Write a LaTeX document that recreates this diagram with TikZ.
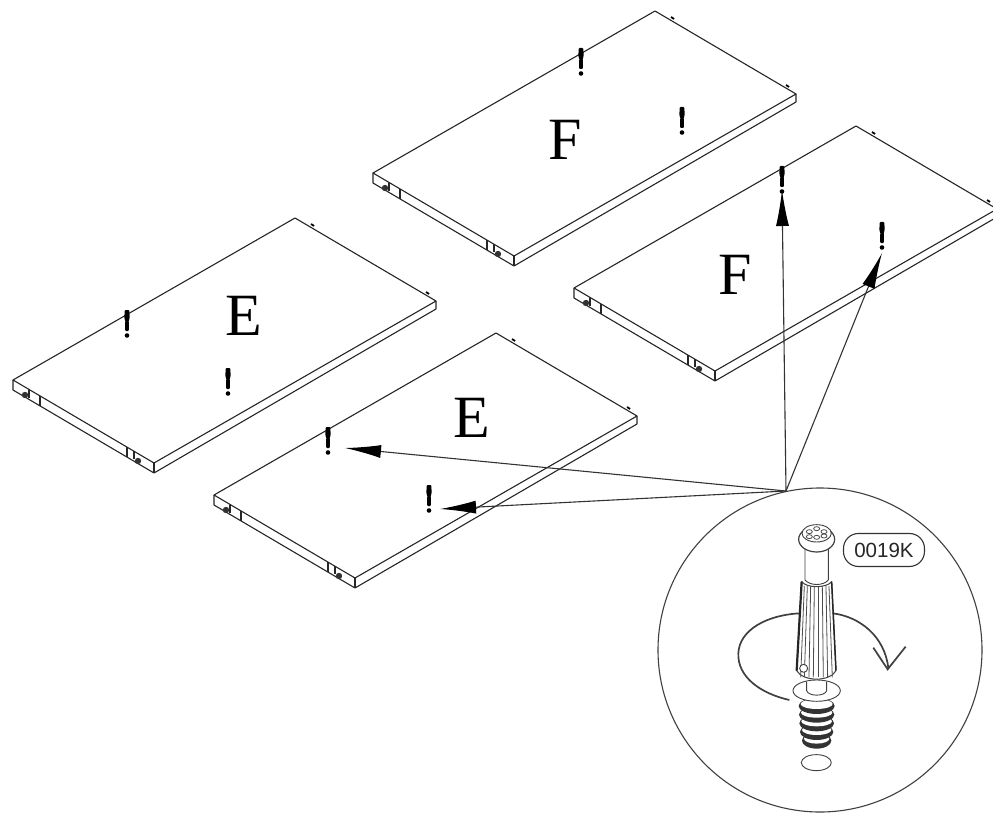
\documentclass[tikz,border=0pt]{standalone}
\usepackage{fontspec}
\setmainfont{Liberation Serif}
\newfontfamily\lblsans{Liberation Sans}
\usetikzlibrary{arrows.meta,calc}
\tikzset{
  edgeline/.style={draw=black!85,line width=1.1pt,line join=round},
  letter/.style={font=\fontsize{60}{60}\selectfont,inner sep=0pt,text=black},
  pointer/.style={draw=black!80,line width=1.1pt,-{Latex[length=36pt,width=13pt,black]}},
  pinbar/.style={fill=black,draw=none,rounded corners=1pt},
  fine/.style={draw=black!75,line width=0.9pt,line join=round},
  ribbon/.style={draw=black!75,line width=1.7pt,line cap=butt},
}
\newcommand{\boardpanel}[3]{%
  \begin{scope}[shift={(#1,#2)}]
    \coordinate (#3l) at (0,0);
    \coordinate (#3t) at (282,-162);
    \coordinate (#3r) at (423,-79);
    \coordinate (#3b) at (141,83);
    \path[fill=white] (#3l) -- (#3t) -- (#3r) -- ++(0,8) -- ($(#3b)+(0,9)$) -- ($(#3l)+(0,9)$) -- cycle;
    \draw[edgeline] (#3l) -- (#3t) -- (#3r) -- (#3b) -- cycle;
    \draw[edgeline] (#3l) -- ++(0,10) -- ($(#3b)+(0,10)$) -- ($(#3r)+(0,8)$) -- (#3r);
    \draw[edgeline] (#3b) -- ++(0,10);
    % dowels and cut-outs on the front edge
    \fill[black!80] (12,15) circle (3.2pt);
    \draw[edgeline] (16,10) -- (16,18);
    \draw[edgeline,line width=2pt] (27,16) -- (27,26);
    \draw[edgeline,line width=2pt] (114,67) -- (114,77);
    \fill[black!80] (125,81) circle (3.2pt);
    \draw[edgeline] (121,71) -- (121,79);
    % small ticks on the far edges
    \draw[black,line width=1.8pt] (298,-156) -- (301,-154);
    \draw[black,line width=1.8pt] (413,-88) -- (416,-86);
  \end{scope}}
\newcommand{\cabpin}[3]{%
  \begin{scope}[shift={(#1,#2)}]
    \path[pinbar] (-2.4,-14) -- (2.4,-14) -- (2.6,-5) -- (1.7,-4) -- (2,7) -- (-2,7) -- (-1.7,-4) -- (-2.6,-5) -- cycle;
    \fill[black] (0,11.5) circle (2.3pt);
    \coordinate (#3) at (0,0);
  \end{scope}}
\begin{document}
\begin{tikzpicture}[x=1pt,y=-1pt]
\useasboundingbox (0,0) rectangle (993,813);
\clip (0,0) rectangle (993,813);
\fill[white] (0,0) rectangle (993,813);

\boardpanel{373}{173}{pa}
\boardpanel{574}{288}{pb}
\boardpanel{13}{380}{pc}
\boardpanel{214}{495}{pd}

\node[letter] (lf1) at (565,140) {F};
\node[letter] (lf2) at (735,275) {F};
\node[letter] (le1) at (244,316) {E};
\node[letter] (le2) at (472,418) {E};

\cabpin{581}{62}{pina}
\cabpin{682}{121}{pinb}
\cabpin{782}{180}{pinc}
\cabpin{882}{236}{pind}
\cabpin{127}{324}{pine}
\cabpin{228}{382}{pinf}
\cabpin{328}{441}{ping}
\cabpin{429}{499}{pinh}

% detail circle
\node[draw=black!75,line width=1.1pt,circle,minimum size=324pt,inner sep=0pt] (detail) at (820,650) {};
\coordinate (hub) at (786,491);
\coordinate (tipg) at (345,448);
\coordinate (tiph) at (440,509);
\coordinate (tipc) at (782,190);
\coordinate (tipd) at (882,253);
\draw[pointer] (hub) -- (tipg);
\draw[pointer] (hub) -- (tiph);
\draw[pointer] (hub) -- (tipc);
\draw[pointer] (hub) -- (tipd);

% fastener, drawn in the 3x crop coordinates
\begin{scope}[shift={(650,480)},x=0.3333pt,y=-0.3333pt]
  % rotation arrow, rear part
  \draw[ribbon] (418,660) .. controls (330,640) and (262,590) .. (265,520) .. controls (268,450) and (350,405) .. (450,400);
  \draw[ribbon] (548,400) .. controls (630,410) and (705,470) .. (715,565);
  \draw[ribbon] (670,503) -- (713,568) -- (767,500);
  % threads
  \foreach \yy/\tw in {782/44,756/50,730/52,704/53,678/54} {
    \fill[black!80] (500,\yy) ellipse [x radius=\tw, y radius=24];
    \fill[white] (500,\yy-6) ellipse [x radius=\tw-6, y radius=15];
  }
  % flange
  \draw[fine,fill=white] (500,632) ellipse (71 and 32);
  \draw[fine] (470,605) -- (470,632) .. controls (475,650) and (525,650) .. (530,632) -- (530,605);
  % sleeve
  \draw[fine,fill=white,line width=1pt] (455,305) -- (440,572) .. controls (460,606) and (540,606) .. (558,572) -- (545,305) .. controls (530,325) and (470,325) .. (455,305) -- cycle;
  \draw[black!85,line width=2.2pt] (455,305) -- (440,572);
  \draw[black!85,line width=1.5pt] (545,305) -- (558,572);
  \foreach \a/\b in {463/452,472/463,482/477,493/490,505/505,517/520,528/533,537/547} {
    \draw[black!70,line width=0.8pt] (\a,318) -- (\b,592);
  }
  \draw[fine,fill=white] (461,565) circle (12);
  % neck
  \draw[fine,fill=white] (465,205) -- (465,300) .. controls (480,318) and (520,318) .. (535,300) -- (535,205) -- cycle;
  % head
  \draw[fine,fill=white,line width=1.2pt] (500,178) ellipse (54 and 38);
  \draw[fine,fill=white] (500,160) ellipse (44 and 26);
  \foreach \xx/\yy in {478/155,500/146,522/155,478/170,500/172,522/168} {
    \draw[black!70,line width=0.8pt] (\xx,\yy) circle (9 and 6);
  }
  % hole
  \draw[fine] (499,848) ellipse (45 and 24);
  % label
  \node[draw=black!80,line width=1.1pt,rounded corners=15pt,inner xsep=0pt,inner ysep=0pt,minimum width=81pt,minimum height=33pt,font=\lblsans\fontsize{20.5}{22}\selectfont,text=black!85] (code) at (702,210) {0019K};
\end{scope}
\end{tikzpicture}
\end{document}
